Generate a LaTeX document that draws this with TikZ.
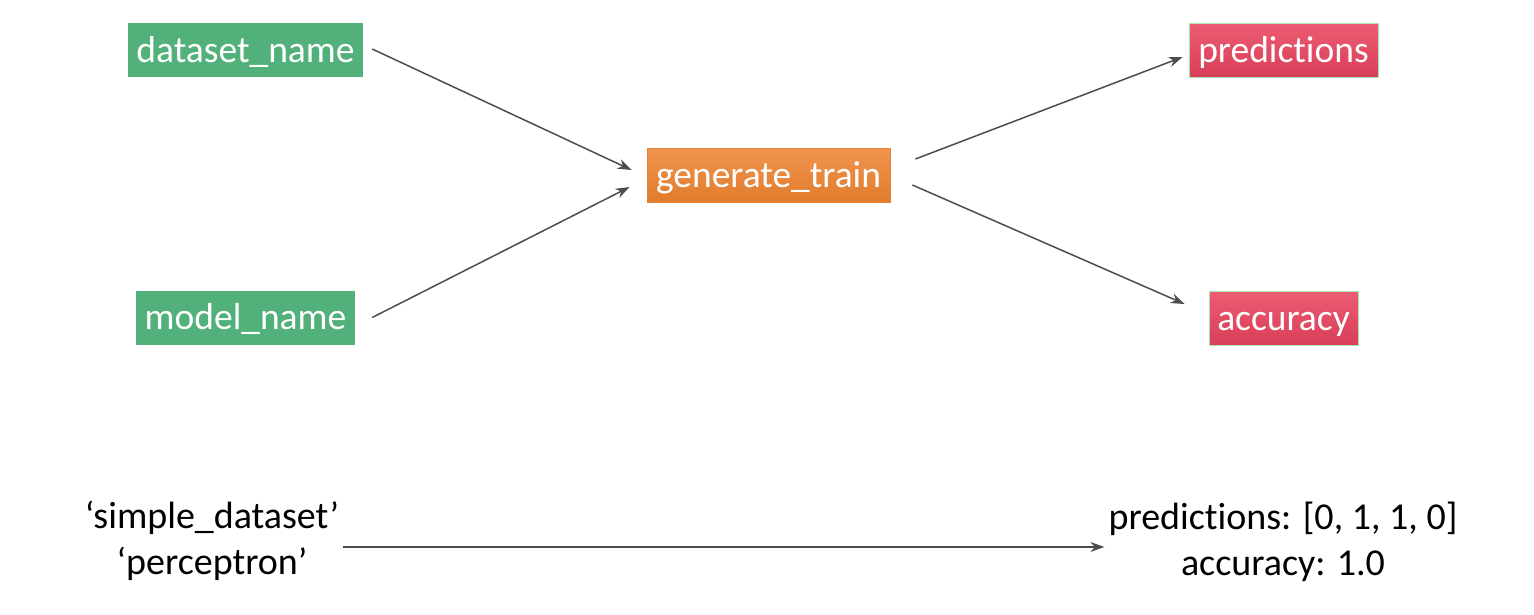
\documentclass[tikz,border=0pt]{standalone}
\usepackage{fontspec}
\setmainfont{Carlito}[Ligatures=CommonOff]
\usetikzlibrary{arrows.meta}
\definecolor{boxgreen}{RGB}{82,177,122}
\definecolor{orangetop}{RGB}{241,148,78}
\definecolor{orangebot}{RGB}{224,124,44}
\definecolor{orangeedge}{RGB}{230,130,50}
\definecolor{redtop}{RGB}{236,92,114}
\definecolor{redbot}{RGB}{216,62,88}
\definecolor{rededge}{RGB}{170,230,180}
\definecolor{arrowgray}{RGB}{77,77,77}
\tikzset{
  lbl/.style={font=\fontsize{37.5}{44}\selectfont, text=white, inner sep=0pt, minimum height=54pt, text height=29pt, text depth=5pt},
  inbox/.style={lbl, fill=boxgreen},
  funbox/.style={lbl, top color=orangetop, bottom color=orangebot, draw=orangeedge, line width=0.8pt},
  outbox/.style={lbl, top color=redtop, bottom color=redbot, draw=rededge, line width=0.8pt},
  plain/.style={font=\fontsize{38}{46}\selectfont, align=center, inner sep=0pt},
  conn/.style={draw=arrowgray, line width=1.5pt, -{Stealth[length=14pt,width=10pt]}}
}
\begin{document}
\begin{tikzpicture}[x=1pt,y=-1pt]
\useasboundingbox (0,0) rectangle (1534,614);
\node[inbox, minimum width=235pt] (ds) at (245.5,50) {dataset\_name};
\node[inbox, minimum width=219pt] (mn) at (245.5,317.5) {model\_name};
\node[funbox, minimum width=243pt] (gt) at (768.5,175.5) {generate\_train};
\node[outbox, minimum width=189pt] (pr) at (1283.5,50.5) {predictions};
\node[outbox, minimum width=149pt] (ac) at (1283.5,318.5) {accuracy};
\node[plain] (inv) at (212,541) {‘simple\_dataset’\\‘perceptron’};
\node[plain] (outv) at (1283,542) {predictions: [0, 1, 1, 0]\\accuracy: 1.0};
\draw[conn] ([xshift=9pt,yshift=1pt]ds.east) -- ([xshift=-15pt,yshift=5.5pt]gt.west);
\draw[conn] ([xshift=17pt]mn.east) -- ([xshift=-17pt,yshift=-11.5pt]gt.west);
\draw[conn] ([xshift=25pt,yshift=16.5pt]gt.east) -- ([xshift=-6pt,yshift=-6.5pt]pr.west);
\draw[conn] ([xshift=22pt,yshift=-9.5pt]gt.east) -- ([xshift=-24pt,yshift=14.5pt]ac.west);
\draw[conn] ([xshift=4pt,yshift=-6pt]inv.east) -- ([xshift=-4pt,yshift=-5pt]outv.west);
\end{tikzpicture}
\end{document}
